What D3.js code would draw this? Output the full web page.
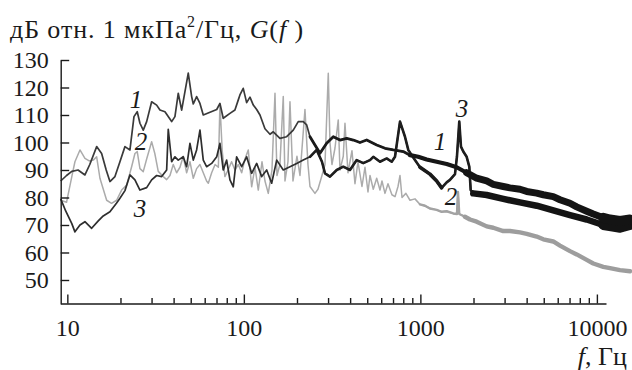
<!DOCTYPE html>
<html><head><meta charset="utf-8">
<script src="https://cdn.jsdelivr.net/npm/d3@7"></script>
<style>
body{margin:0;background:#fff;}
svg{display:block;font-family:"Liberation Serif","Times New Roman",serif;}
</style></head><body>
<svg id="c" width="632" height="370"></svg>
<script>
// ---- data ----
const yTicks = [50, 60, 70, 80, 90, 100, 110, 120, 130];
const xMajor = [10, 100, 1000, 10000];
const xTickLabels = ["10", "100", "1000", "10000"];
const xMinor = [20,30,40,50,60,70,80,90,200,300,400,500,600,700,800,900,2000,3000,4000,5000,6000,7000,8000,9000];

// curve 1 (upper dark)
const freq1 = [9.17,9.9,10.6,11.5,12.58,13.4,14.66,15.64,16.6,17.43,18.61,19.86,21.2,22.63,23.85,24.89,25.78,26.92,28.14,30.03,32.06,33.47,35.73,38.99,40.7,42.49,44.42,48.42,50.6,51.7,54,56.4,58.9,64.3,70.2,73.2,76.4,83.4,89,93,95,99.2,103.7,108.3,113.1,118.2,123.4,131.7,140.6,146.8,160.1,174.8,190.5,203.3,217,226.9,236.9,252.8,269.9,294.5,321.1,350.4,382.4,416.8,454.8,496.4,565.6,630.2,702.5,800.2,873.3,972.9,1086,1237,1409,1606,1829,2084,2375,2588,2949,3218,3667,4003,4560,4970,5662,6180,7040,7685,8755,9541,10870,11866,13520,15400];
const db1 = [86,88,89.5,90,88.2,92,98.5,96,90,85.8,87.6,93,98.5,97.3,109.4,111.2,107,104.5,107.6,114.8,113.6,111.8,111.2,107.6,109.4,117.9,111.8,125.2,116.7,114,116.7,114.2,110,111,112,114.2,108.8,110.6,111.8,115.5,117.3,119.7,114.5,116.5,113.6,112,110,105,103,103.9,101.5,102.1,104.5,107.6,107.6,106.4,102.1,99.1,96.1,99.7,102.1,100.9,101.5,100.9,100,100.9,99.1,97.9,97.3,96.7,95.4,94.8,93.8,93,92.2,91,89,87,86,84.8,84,83.5,83,82.2,81.6,81,80.3,79.2,77.9,76.6,75,74,72.6,72,71.5,72];

// curve 2 (grey)
const freq2 = [9.17,9.9,10.6,11.04,11.79,12.58,13.3,14.02,14.66,15.3,16.7,17.8,19.02,20.3,21.68,23.13,24.15,24.89,25.78,26.92,28.14,30.03,31.3,32.73,34.94,36.53,38.14,39.81,41.6,43.45,45.36,47.41,49.5,51.7,54,56.4,58.9,61.5,62.9,65.7,68.7,71.7,73.2,75.4,78.1,81.4,85.2,89,93,97.2,101.4,105.9,110.7,115.6,120.7,126.7,131.7,137.5,144.3,150.1,154,160.1,167.2,171,177.8,182.5,189.8,199.9,207.9,221.9,230.8,236.9,252.8,262.9,277,288.1,300.8,307.5,315.6,328.3,342.6,350.4,365.8,374,388.9,409.8,426.1,443.1,466.8,485.5,504.9,518.3,541,565.6,590.5,606,630.2,655.4,690,718.3,746.9,766.6,786.9,828,873.3,931.9,994.8,1062,1133,1237,1320,1409,1536,1612,1633,1661,1789,1910,2084,2375,2588,2949,3218,3667,4003,4560,4970,5662,6180,7040,7685,8755,9541,10870,11866,13520,15400];
const db2 = [79,78.3,87.6,93,97.3,94.2,93.3,93.6,94.8,87,79,77.9,79,82.7,84.5,91.2,96,96.7,90.5,89.4,94,100.3,96,89.5,87.6,86.5,88,92,89,91,95,89,93,87,90.5,92,89,86,85.2,89,92,91,114,97,87.6,90,93,90,92,89,94,97.3,83.9,91,82.7,93,86,81.5,90,117.9,88,92,116.7,86,93,114.8,86,95,88,112,92,84,81.5,83,88,92,125.2,100,92,98,108.2,90,95,107,89,97,85,93,84,91,82,88,83,87,82.7,86,81.5,85,81,80.3,84,88,80,81.5,79,79.5,77.5,77,76,75.5,74.8,75,74.2,74,82,74,73,72,71.2,69.5,69,67.8,67.8,67.3,66.8,65.8,64.8,64,62.5,60.5,59.3,57.3,56,54.8,54.3,53.6,53.2];

// curve 3 (lower dark, peaks at ~770 and ~1660 Hz)
const freq3 = [9.17,9.8,10.6,11.04,11.79,12.58,13.73,14.97,15.97,17.43,19.02,19.86,21.2,22.63,24.15,25.78,28.14,30.03,32.06,34.22,36.53,37.3,38.99,40.7,42.49,45.36,47.41,49.5,51.7,54,56.4,58.9,61.5,65.7,70.2,73.2,76.4,79.9,83.4,87.1,91,97.2,103.7,110.7,118.2,126.2,134.7,143.7,153.5,167.2,182.5,199.2,217,236.9,258.5,277,288.1,307.5,335.7,365.8,399.2,435.7,474.8,518.3,541,590.5,644.4,687.9,718.3,766.6,818.1,854.1,892.9,994.8,1133,1237,1320,1409,1471,1571,1612,1661,1698,1750,1829,1893,1928,1994,2375,2949,3667,4560,5662,7040,8755,10870,12300,13520,15400];
const db3 = [79.5,75,70.5,67.5,70,71.2,68.8,71.5,73.3,74.8,78,79.7,82.5,88.2,86.4,82.7,83.6,86.4,88,87.6,90,104.8,93,94.8,93.6,94.8,91.2,99.7,93.6,97.3,104.5,93.6,91.2,92.4,94.8,99.7,90,93.6,86.4,83.9,94.8,91.2,94.8,88.8,92.4,87.6,90,85.2,93.6,90,91.2,92.4,93.6,94.8,97.3,93,88.8,87.6,90,91.2,90,93.6,92.5,93.6,94.8,93,94.2,93,94.8,107.6,102.1,97.3,95.4,91,88.5,86,83.5,85.5,86.4,88.5,95,107.6,98.5,96.7,94.8,91.2,82.7,81.5,80.9,79.5,78.2,77,75.3,73.6,72,70,69.4,69,70];

// curve labels: [text, frequency, level]
const curveLabels = [["1",24.5,112.5],["2",26.1,97.3],["3",25.8,72.9],["1",1291,97.3],["2",1491,77.3],["3",1721,109.3]];

// ---- drawing ----
const svg = d3.select("#c");
const FONT = "Liberation Serif, Times New Roman, serif";
const x = d3.scaleLog().domain([9.17, 11262]).range([60.7, 606]);
const y = d3.scaleLinear().domain([41.27, 130]).range([304, 60]);

function pts(f, v) {
  const n = Math.min(f.length, v.length);
  return d3.range(n).map(i => [f[i], v[i]]);
}
const line = d3.line().x(d => x(d[0])).y(d => y(d[1]));

function drawSeries(data, base, segs) {
  svg.append("path").datum(data)
    .attr("d", line).attr("fill", "none")
    .attr("stroke", base.color).attr("stroke-width", base.w)
    .attr("stroke-linejoin", "round");
  segs.forEach(s => {
    const idx = d3.range(data.length).filter(i => data[i][0] >= s.min && data[i][0] <= s.max);
    if (!idx.length) return;
    const a = Math.max(0, idx[0] - (s.pre ? 1 : 0)), b = idx[idx.length - 1];
    svg.append("path").datum(data.slice(a, b + 1))
      .attr("d", line).attr("fill", "none")
      .attr("stroke", s.color).attr("stroke-width", s.w)
      .attr("stroke-linejoin", "round").attr("stroke-linecap", "round");
  });
}

drawSeries(pts(freq2, db2), {w:1.5, color:"#ababab"}, [
  {min:1000, max:1e6, w:2.4, color:"#a3a3a3", pre:true},
  {min:1900, max:1e6, w:4.4, color:"#9d9d9d", pre:true}
]);
drawSeries(pts(freq3, db3), {w:1.7, color:"#2e2e2e"}, [
  {min:240, max:1994, w:2.6, color:"#1e1e1e", pre:true},
  {min:900, max:1400, w:3.6, color:"#1a1a1a"},
  {min:1990, max:1e6, w:6.5, color:"#141414"},
  {min:10000, max:1e6, w:10, color:"#141414"}
]);
drawSeries(pts(freq1, db1), {w:1.7, color:"#3a3a3a"}, [
  {min:240, max:2100, w:2.8, color:"#1a1a1a", pre:true},
  {min:850, max:2100, w:4.2, color:"#161616"},
  {min:1800, max:1e6, w:7, color:"#141414"},
  {min:10000, max:1e6, w:10, color:"#141414"}
]);

// axes
const gx = svg.append("g").attr("transform", "translate(0,303.5)");
gx.call(d3.axisBottom(x).tickValues(xMajor).tickFormat((d, i) => xTickLabels[i])
  .tickSizeInner(-9).tickSizeOuter(0).tickPadding(15));
const gxm = svg.append("g").attr("transform", "translate(0,303.5)");
gxm.call(d3.axisBottom(x).tickValues(xMinor).tickFormat("").tickSizeInner(-5.5).tickSizeOuter(0));
gxm.select(".domain").remove();

const gy = svg.append("g").attr("transform", "translate(60.7,0)");
gy.call(d3.axisLeft(y).tickValues(yTicks).tickSizeInner(-8.5).tickSizeOuter(0).tickPadding(12));

[gx, gxm, gy].forEach(g => {
  g.attr("font-family", FONT).attr("font-size", 24).attr("color", "#1a1a1a");
  g.selectAll("line, path").attr("stroke-width", 1.4);
});

// curve labels
svg.append("g").selectAll("text").data(curveLabels).join("text")
  .attr("x", d => x(d[1])).attr("y", d => y(d[2]))
  .attr("text-anchor", "middle").attr("font-style", "italic")
  .attr("font-family", FONT).attr("font-size", 25).attr("fill", "#1a1a1a")
  .text(d => d[0]);

// title
const t = svg.append("text").attr("x", 10).attr("y", 37.5)
  .attr("font-family", FONT).attr("font-size", 26).attr("letter-spacing", 0.9).attr("fill", "#1a1a1a");
t.append("tspan").text("дБ отн. 1 мкПа");
t.append("tspan").attr("font-size", 16).attr("dy", -11).text("2");
t.append("tspan").attr("dy", 11).text("/Гц, ");
t.append("tspan").attr("font-style", "italic").text("G");
t.append("tspan").text("(");
t.append("tspan").attr("font-style", "italic").text("f");
t.append("tspan").text(" )");

// x axis title
const xt = svg.append("text").attr("x", 627).attr("y", 365).attr("text-anchor", "end")
  .attr("font-family", FONT).attr("font-size", 26).attr("fill", "#1a1a1a");
xt.append("tspan").attr("font-style", "italic").text("f");
xt.append("tspan").text(", Гц");
</script>
</body></html>
